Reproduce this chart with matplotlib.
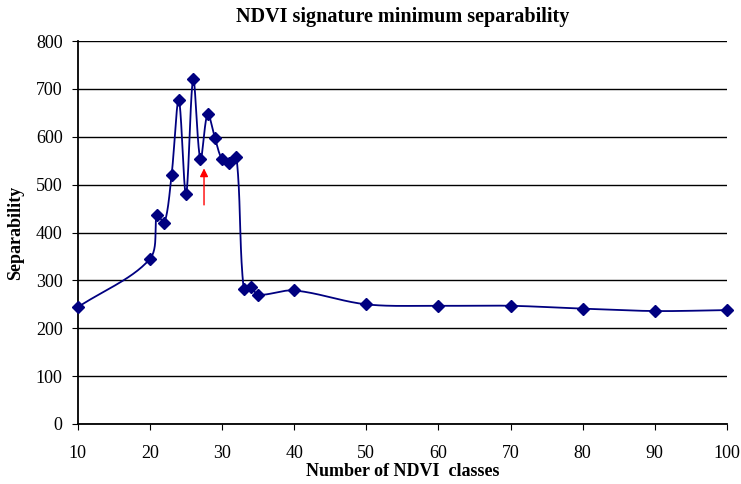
import numpy as np
import matplotlib.pyplot as plt

plt.rcParams['font.family'] = ['Liberation Serif', 'DejaVu Serif']

# data
classes = [10, 20, 21, 22, 23, 24, 25, 26, 27, 28, 29, 30, 31, 32, 33, 34, 35,
           40, 50, 60, 70, 80, 90, 100]
separability = [244, 345, 437, 420, 520, 677, 480, 720, 553, 648, 598, 553, 546, 557,
                 283, 286, 270, 279, 250, 247, 247, 241, 236, 238]


def smooth_curve(px, py, n=30):
    # smoothed line like excel: bezier, tangents scaled by segment length
    pts = np.column_stack([px, py])
    out = []
    for i in range(len(pts) - 1):
        p0 = pts[i - 1] if i > 0 else pts[i]
        p1 = pts[i]
        p2 = pts[i + 1]
        p3 = pts[i + 2] if i + 2 < len(pts) else pts[i + 1]
        d01 = np.hypot(*(p1 - p0))
        d12 = np.hypot(*(p2 - p1))
        d23 = np.hypot(*(p3 - p2))
        c1 = p1 + (p2 - p0) * d12 / (d01 + d12) / 3.0
        c2 = p2 - (p3 - p1) * d12 / (d12 + d23) / 3.0
        t = np.linspace(0, 1, n)[:, None]
        seg = ((1 - t)**3) * p1 + 3 * ((1 - t)**2) * t * c1 + 3 * (1 - t) * t**2 * c2 + t**3 * p2
        out.append(seg)
    return np.vstack(out)


fig = plt.figure(figsize=(7.41, 4.84), dpi=100)
ax = fig.add_axes([0.105, 0.124, 0.876, 0.791])
ax.set_xlim(10, 100)
ax.set_ylim(0, 800)

# build the curve in display coords so the shape matches on screen
disp = ax.transData.transform(np.column_stack([classes, separability]))
curve = smooth_curve(disp[:, 0], disp[:, 1])
curve = ax.transData.inverted().transform(curve)
ax.plot(curve[:, 0], curve[:, 1], color='#000080', lw=1.3, zorder=3, clip_on=False)
ax.plot(classes, separability, linestyle='none', marker='D', markersize=6,
        color='#000080', zorder=4, clip_on=False)

# red arrow
ax.annotate('', xy=(27.5, 540), xytext=(27.5, 452),
            arrowprops=dict(arrowstyle='-|>', color='red', lw=1, mutation_scale=12))

ax.set_yticks(np.arange(0, 801, 100))
ax.set_xticks(np.arange(10, 101, 10))
ax.yaxis.grid(True, color='black', lw=1)
ax.set_axisbelow(True)
ax.spines['top'].set_visible(False)
ax.spines['right'].set_visible(False)
ax.spines['left'].set_linewidth(1.3)
ax.spines['bottom'].set_linewidth(1.3)
ax.tick_params(direction='out', length=4, labelsize=13)
ax.tick_params(axis='x', pad=11)
ax.tick_params(axis='y', pad=7)

ax.set_title('NDVI signature minimum separability', fontsize=14.5, fontweight='bold', pad=14)
ax.set_xlabel('Number of NDVI  classes', fontsize=13, fontweight='bold', labelpad=1)
ax.set_ylabel('Separability', fontsize=13, fontweight='bold', labelpad=8)

plt.savefig('out.png', dpi=100)
